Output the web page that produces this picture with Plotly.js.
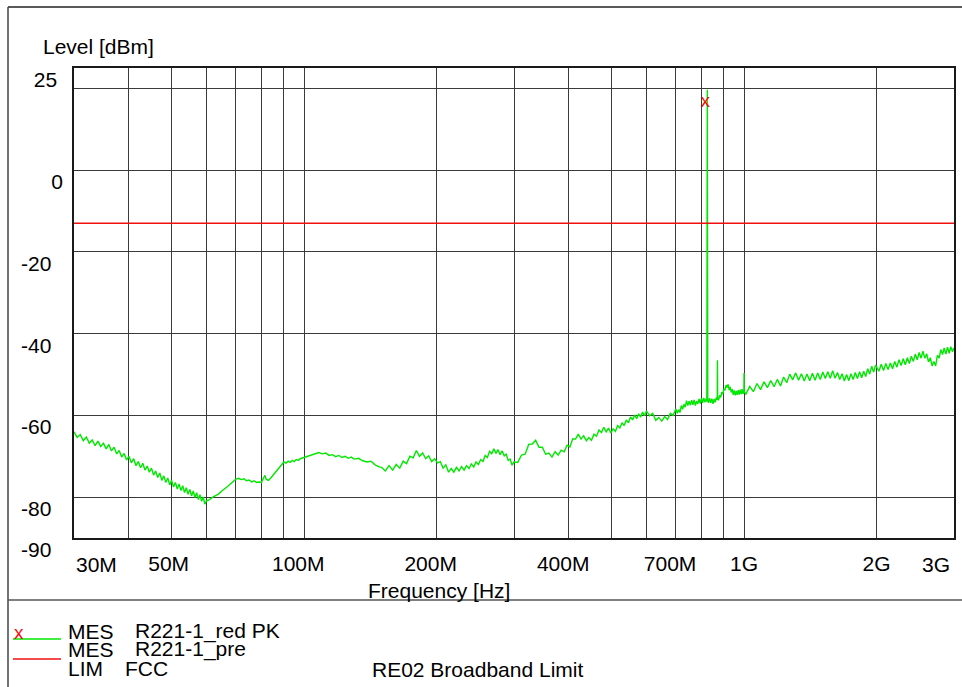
<!DOCTYPE html>
<html>
<head>
<meta charset="utf-8">
<script src="https://cdn.plot.ly/plotly-3.0.1.min.js"></script>
<style>html,body{margin:0;padding:0;background:#fff;}#chart{width:962px;height:687px;}</style>
</head>
<body>
<div id="chart"></div>
<script>
// ---------- DATA ----------
// Measured trace (MES R221-1_red PK), frequency in MHz, level in dBm
const freqMHz = [
  30,30.5,31,31.5,32,32.5,33,33.5,34,34.5,
  35,35.5,36,36.5,37,37.5,38,38.5,39,39.5,
  40,40.5,41,41.5,42,42.5,43,43.5,44,44.5,
  45,45.5,46,46.5,47,47.5,48,48.5,49,49.5,
  50,50.5,51,51.5,52,52.5,53,53.5,54,54.5,
  55,55.5,56,56.5,57,57.5,58,58.5,59,59.5,
  60,
  61,62,63,64,65,66,67,68,69,70,
  71,72,73,74,75,76,77,78,79,80,
  81,81.5,82,83,84,85,86,87,88,89,
  90,91,92,93,94,95,96,97,98,100,
  102,104,106,108,110,112,114,116,118,120,
  122,124,126,128,130,133,136,139,142,145,
  148,
  150,153,156,159,162,165,168,171,174,177,
  180,183,186,189,192,195,198,201,204,207,
  210,213,216,219,222,225,228,231,234,237,
  240,243,246,249,252,255,258,261,264,267,
  270,273,276,279,282,285,288,291,294,297,
  300,
  306,312,318,324,330,336,342,348,354,360,
  366,372,378,384,390,396,402,408,414,420,
  426,432,438,444,450,456,462,468,474,480,
  486,492,498,504,510,516,522,528,534,540,
  546,552,558,564,570,576,582,588,594,600,
  610,620,630,640,650,660,670,680,690,
  700,705,710,715,720,725,730,735,740,745,
  750,755,760,765,770,775,780,785,790,795,
  800,805,810,815,820,823,825,827,830,835,
  840,845,850,855,860,865,869,870,871,875,
  880,885,890,895,900,905,910,915,920,925,
  930,935,940,945,950,955,960,965,970,975,
  980,985,990,995,999,1000,1001,
  1010,1030,1050,1070,1090,1110,1130,1150,1170,1190,
  1210,1230,1250,1270,1290,1310,1330,1350,1370,1390,
  1410,1430,1450,1470,1490,1510,1530,1550,1570,1590,
  1610,1630,1650,1670,1690,1710,1730,1750,1770,1790,
  1810,1830,1850,1870,1890,1910,1930,1950,1970,1990,
  2025,2050,2075,2100,2125,2150,2175,2200,2225,2250,
  2275,2300,2325,2350,2375,2400,2425,2450,2475,2500,
  2525,2550,2575,2600,2625,2650,2675,2700,2725,2750,
  2775,2800,2825,2850,2875,2900,2925,2950,2975,3000
];
const levelDbm = [
  -64.0,-65.4,-64.7,-66.2,-65.3,-66.8,-66.0,-67.4,-66.3,-67.6,
  -66.8,-68.2,-67.1,-68.7,-67.8,-69.4,-68.6,-70.2,-69.3,-70.9,
  -70.0,-71.6,-70.6,-72.3,-71.3,-72.8,-71.7,-73.4,-72.4,-73.9,
  -72.9,-74.6,-73.6,-75.2,-74.1,-75.9,-74.8,-76.4,-75.3,-77.0,
  -75.9,-77.5,-76.4,-78.0,-76.8,-78.4,-77.2,-78.9,-77.7,-79.3,
  -78.1,-79.7,-78.5,-80.1,-78.9,-80.6,-79.4,-81.0,-80.0,-81.7,
  -80.9,
  -80.6,-80.0,-79.6,-79.2,-78.5,-78.0,-77.4,-76.8,-76.2,-75.6,
  -75.4,-75.7,-75.5,-76.0,-75.8,-76.3,-76.0,-76.4,-76.3,-76.4,
  -75.2,-74.7,-75.6,-75.9,-75.3,-74.6,-73.9,-73.2,-72.7,-72.0,
  -71.4,-71.7,-71.2,-71.5,-71.0,-71.3,-70.8,-71.0,-70.6,-70.3,
  -70.0,-69.7,-69.3,-69.1,-69.4,-69.2,-69.8,-69.6,-70.1,-69.8,
  -70.3,-70.0,-70.5,-70.2,-70.7,-70.5,-71.1,-71.4,-71.2,-72.1,
  -72.6,
  -72.7,-73.6,-72.3,-73.4,-72.0,-72.9,-71.2,-71.8,-70.0,-70.4,
  -68.6,-70.0,-69.2,-70.6,-69.9,-71.3,-70.6,-71.6,-71.3,-72.9,
  -72.1,-73.9,-73.0,-73.9,-72.7,-73.6,-72.5,-73.4,-72.3,-73.0,
  -71.9,-72.6,-71.4,-72.0,-70.8,-71.3,-69.8,-70.3,-68.8,-69.4,
  -68.2,-69.3,-68.4,-69.6,-68.7,-69.9,-69.5,-71.0,-70.7,-72.2,
  -71.4,
  -71.5,-69.7,-69.5,-67.1,-67.0,-66.1,-67.8,-67.8,-69.5,-69.2,
  -70.2,-68.9,-69.7,-68.5,-68.9,-67.3,-67.7,-65.7,-65.8,-64.6,
  -65.8,-65.0,-66.2,-65.4,-66.1,-64.6,-65.1,-63.6,-64.2,-62.9,
  -64.0,-63.1,-64.3,-63.3,-63.9,-62.5,-63.1,-61.8,-62.5,-61.1,
  -61.8,-60.4,-61.1,-59.9,-60.8,-59.6,-60.4,-59.2,-60.1,-58.9,
  -60.1,-59.5,-61.2,-60.5,-61.4,-60.3,-61.0,-59.5,-60.0,
  -58.4,-59.5,-58.6,-59.3,-57.6,-58.5,-57.3,-58.0,-56.4,-57.6,
  -56.5,-57.5,-56.3,-57.4,-56.2,-57.6,-56.5,-57.2,-56.0,-57.1,
  -55.8,-56.9,-55.7,-56.8,-55.9,-56.6,19.7,-56.2,-56.9,-55.8,
  -56.9,-55.9,-57.2,-56.0,-56.8,-55.6,-56.2,-46.5,-55.9,-56.3,
  -55.1,-55.6,-54.3,-54.8,-53.5,-53.9,-52.6,-53.2,-52.4,-53.8,
  -53.0,-54.4,-53.6,-55.0,-53.9,-55.1,-54.0,-55.0,-53.8,-54.9,
  -53.7,-54.8,-53.6,-54.7,-54.0,-49.6,-54.2,
  -54.8,-52.9,-54.2,-52.2,-53.7,-51.8,-53.2,-51.5,-53.0,-51.2,
  -52.8,-50.6,-52.0,-49.9,-51.3,-49.6,-51.4,-49.8,-51.6,-49.9,
  -51.5,-49.7,-51.4,-49.6,-51.2,-49.4,-51.0,-49.3,-50.9,-49.1,
  -50.9,-49.5,-51.2,-49.8,-51.6,-50.0,-51.5,-49.8,-51.2,-49.5,
  -51.0,-49.3,-50.8,-49.2,-50.5,-48.6,-49.9,-48.0,-49.4,-47.7,
  -49.2,-47.5,-49.0,-47.3,-48.8,-47.2,-48.6,-46.8,-48.2,-46.4,
  -47.8,-46.1,-47.6,-45.9,-47.3,-45.5,-46.8,-45.0,-46.4,-44.6,
  -46.0,-44.3,-46.0,-44.9,-46.9,-45.9,-47.9,-46.8,-47.9,-45.3,
  -46.0,-43.9,-45.1,-43.5,-45.0,-43.3,-44.8,-43.2,-44.4,-43.5
];
// Limit line (LIM FCC RE02 Broadband Limit)
const limitFreqMHz = [30, 3000];
const limitLevelDbm = [-13, -13];
// Final peak measurement marker
const peakFreqMHz = [816];
const peakLevelDbm = [16.6];

// Axes
const xRangeMHz = [30, 3000];
const yRangeDbm = [-90, 25];
const xGridMHz = [40,50,60,70,80,90,100,200,300,400,500,600,700,800,900,1000,2000];
const yGridDbm = [20,0,-20,-40,-60,-80];
const xTickMHz = [50,100,200,400,700,1000,2000];
const xTickText = ['50M\u00a0','100M\u00a0\u00a0','200M\u00a0\u00a0','400M\u00a0\u00a0','700M\u00a0\u00a0','1G','2G'];
const xEdgeTickMHz = [30, 3000];
const xEdgeTickText = ['30M', '3G'];
const yTickDbm = [25,0,-20,-40,-60,-80,-90];
const yTickText = ['25\u00a0','0','-20\u00a0\u00a0','-40\u00a0\u00a0','-60\u00a0\u00a0','-80\u00a0\u00a0','-90\u00a0\u00a0'];

// Legend / caption text
const legendRows = [
  ['MES', 'R221-1_red PK'],
  ['MES', 'R221-1_pre'],
  ['LIM', 'FCC']
];
const limitCaption = 'RE02 Broadband Limit';

// ---------- LAYOUT ----------
const W = 962, H = 687, PL = 74, PR = 954, PT = 68, PB = 538;
const px = x => (x - PL) / (PR - PL);
const py = y => (PB - y) / (PB - PT);
const FONT = 'Liberation Sans, Arial, Helvetica, sans-serif';
const FS = 21;
const GREEN = '#00e800';
const RED = '#f01010';

const traces = [
  {x: freqMHz, y: levelDbm, type: 'scatter', mode: 'lines',
   line: {color: GREEN, width: 1.4}, xaxis: 'x', yaxis: 'y', hoverinfo: 'skip'},
  {x: limitFreqMHz, y: limitLevelDbm, type: 'scatter', mode: 'lines',
   line: {color: RED, width: 1.5}, xaxis: 'x', yaxis: 'y', hoverinfo: 'skip'},
  {x: peakFreqMHz, y: peakLevelDbm, type: 'scatter', mode: 'text', text: ['x'],
   textposition: 'middle center', textfont: {family: FONT, size: 19, color: RED},
   xaxis: 'x2', yaxis: 'y2', hoverinfo: 'skip'}
];

const lineShape = (x0, y0, x1, y1, color, width) => ({
  type: 'line', xref: 'paper', yref: 'paper', x0: px(x0), y0: py(y0), x1: px(x1), y1: py(y1),
  line: {color: color, width: width}, layer: 'above'
});

const ann = (text, x, y, xanchor, color, size) => ({
  text: text, xref: 'paper', yref: 'paper', x: px(x), y: py(y), xanchor: xanchor, yanchor: 'middle',
  showarrow: false, font: {family: FONT, size: size || FS, color: color || '#000'}
});

const annotations = [
  ann('Level [dBm]', 41, 46, 'left'),
  ann('Frequency [Hz]', 439, 590, 'center'),
  ann('x', 19, 632, 'center', RED, 19),
  ann(limitCaption, 370, 669, 'left')
];
const rowY = [631, 649, 668];
legendRows.forEach((r, i) => {
  annotations.push(ann(r[0], 66, rowY[i], 'left'));
  annotations.push(ann(r[1], i === 2 ? 123 : 133, rowY[i], 'left'));
});
xEdgeTickMHz.forEach((f, i) => {
  annotations.push({
    text: xEdgeTickText[i], xref: 'x2', yref: 'paper', x: Math.log10(f), y: py(564),
    xanchor: i === 0 ? 'left' : 'right', yanchor: 'middle', xshift: i === 0 ? 0 : -2,
    showarrow: false, font: {family: FONT, size: FS, color: '#000'}
  });
});

const layout = {
  width: W, height: H,
  margin: {l: PL, r: W - PR, t: PT, b: H - PB, pad: 0},
  paper_bgcolor: '#fff', plot_bgcolor: '#fff',
  showlegend: false,
  font: {family: FONT, size: FS, color: '#000'},
  xaxis: {
    type: 'log', range: xRangeMHz.map(Math.log10), tickmode: 'array', tickvals: xGridMHz,
    showticklabels: false, ticks: '', showgrid: true, gridcolor: '#3a3a3a', gridwidth: 1,
    showline: true, mirror: true, linecolor: '#1a1a1a', linewidth: 2, zeroline: false, fixedrange: true
  },
  yaxis: {
    range: yRangeDbm, tickmode: 'array', tickvals: yGridDbm, showticklabels: false, ticks: '',
    showgrid: true, gridcolor: '#3a3a3a', gridwidth: 1,
    showline: true, mirror: true, linecolor: '#1a1a1a', linewidth: 2, zeroline: false, fixedrange: true
  },
  xaxis2: {
    type: 'log', range: xRangeMHz.map(Math.log10), overlaying: 'x', anchor: 'y2', side: 'bottom',
    tickmode: 'array', tickvals: xTickMHz, ticktext: xTickText, ticks: '',
    showgrid: false, showline: false, zeroline: false, ticklabelstandoff: 11,
    tickfont: {family: FONT, size: FS, color: '#000'}, fixedrange: true
  },
  yaxis2: {
    range: yRangeDbm, overlaying: 'y', anchor: 'x2', side: 'left',
    tickmode: 'array', tickvals: yTickDbm, ticktext: yTickText, ticks: '',
    ticklabelposition: 'outside bottom', ticklabelstandoff: 10, ticklabelshift: -3,
    showgrid: false, showline: false, zeroline: false,
    tickfont: {family: FONT, size: FS, color: '#000'}, fixedrange: true
  },
  shapes: [
    lineShape(8, 7, 962, 7, '#222', 1.5),
    lineShape(8, 7, 8, 687, '#444', 1.5),
    lineShape(8, 600, 962, 600, '#555', 1.5),
    lineShape(13, 639, 61, 639, GREEN, 1.3),
    lineShape(13, 659, 61, 659, RED, 1.5)
  ],
  annotations: annotations
};

Plotly.newPlot('chart', traces, layout, {staticPlot: true, displayModeBar: false});
</script>
</body>
</html>
